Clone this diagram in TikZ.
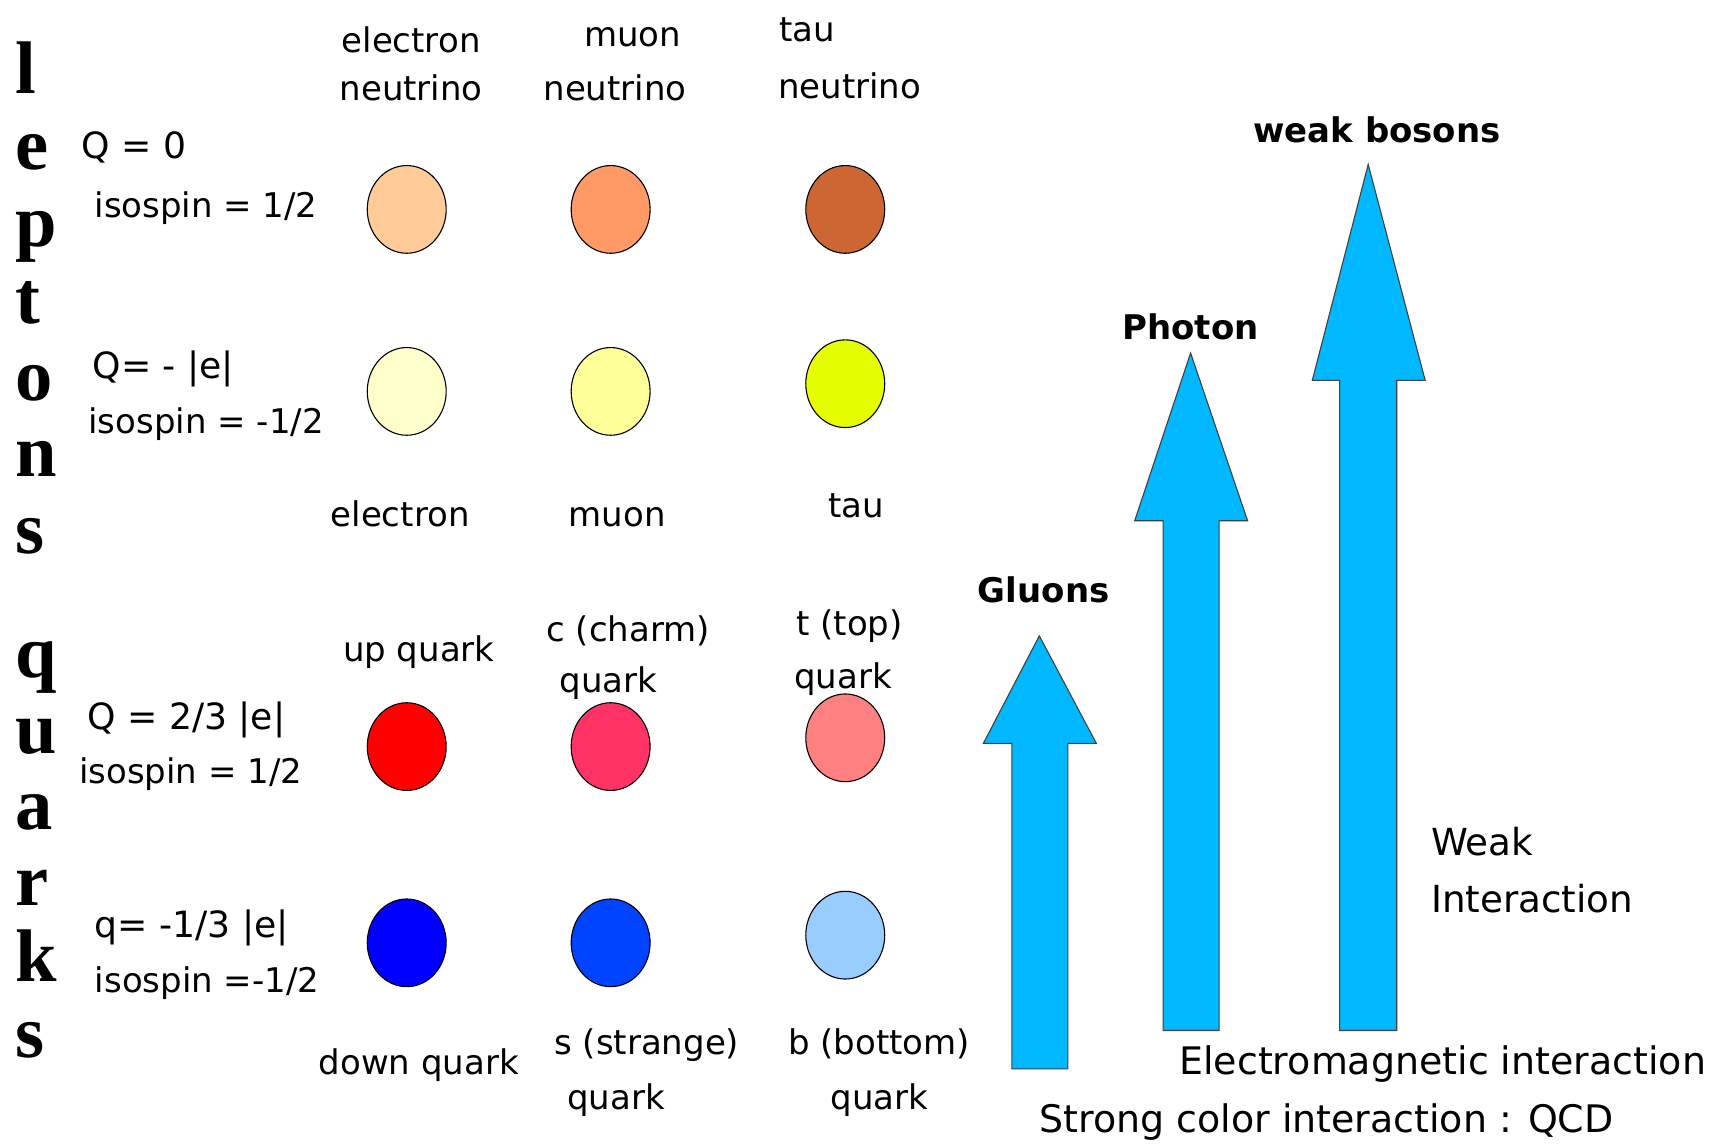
\documentclass[tikz,border=0pt]{standalone}
\usepackage{fontspec}
\setmainfont{DejaVu Sans}
\newfontfamily\timesfam{Liberation Serif}
\usetikzlibrary{shapes.geometric}
\definecolor{cA1}{HTML}{FFCC99}
\definecolor{cA2}{HTML}{FF9966}
\definecolor{cA3}{HTML}{CC6633}
\definecolor{cB1}{HTML}{FFFFCC}
\definecolor{cB2}{HTML}{FFFF99}
\definecolor{cB3}{HTML}{E6FF00}
\definecolor{cC1}{HTML}{FF0000}
\definecolor{cC2}{HTML}{FF3366}
\definecolor{cC3}{HTML}{FF8080}
\definecolor{cD1}{HTML}{0000FF}
\definecolor{cD2}{HTML}{0044FF}
\definecolor{cD3}{HTML}{99CCFF}
\definecolor{arrowblue}{HTML}{00B8FF}
\tikzset{
  lbl/.style={anchor=base, inner sep=0pt, font=\fontsize{15.5}{18}\selectfont},
  chg/.style={anchor=base, inner sep=0pt, font=\fontsize{16.5}{19}\selectfont},
  lblw/.style={anchor=base west, inner sep=0pt, font=\fontsize{17}{20}\selectfont},
  big/.style={anchor=base, inner sep=0pt, font=\fontsize{17.3}{20}\selectfont},
  hd/.style={anchor=base, inner sep=0pt, font=\fontsize{15.5}{18}\selectfont\bfseries},
  letter/.style={anchor=base west, inner sep=0pt, font=\timesfam\bfseries\fontsize{34}{40}\selectfont},
  ball/.style={ellipse, draw=black, line width=0.5pt, minimum width=36pt, minimum height=40pt, inner sep=0pt},
  bigarrow/.style={fill=arrowblue, draw=black!75, line width=0.5pt}
}
\begin{document}
\begin{tikzpicture}[x=0.5pt,y=-0.5pt]
\useasboundingbox (0,0) rectangle (1568,1046);
\fill[white] (0,0) rectangle (1568,1046);

% vertical words
\foreach \ch [count=\i from 0] in {l,e,p,t,o,n,s} {
  \node[letter] (lep\i) at (14,{85+70*\i}) {\ch};
}
\foreach \ch [count=\i from 0] in {q,u,a,r,k,s} {
  \node[letter] (qua\i) at (14,{618+69.4*\i}) {\ch};
}

% top labels
\node[lbl] (en1) at (375,48) {electron};
\node[lbl] (en2) at (375,92) {neutrino};
\node[lbl] (mn1) at (577,42) {muon};
\node[lbl] (mn2) at (561,92) {neutrino};
\node[lbl] (tn1) at (736,38) {tau};
\node[lbl] (tn2) at (775,90) {neutrino};

% charge / isospin
\node[chg] (q1) at (122,145) {Q = 0};
\node[lbl] (i1) at (188,198) {isospin = 1/2};
\node[chg] (q2) at (149,345) {Q= - |e|};
\node[lbl] (i2) at (188,395) {isospin = -1/2};
\node[chg] (q3) at (170,665) {Q = 2/3 |e|};
\node[lbl] (i3) at (174,715) {isospin = 1/2};
\node[chg] (q4) at (175,855) {q= -1/3 |e|};
\node[lbl] (i4) at (189,905) {isospin =-1/2};

% balls
\node[ball, fill=cA1] (b11) at (371,191) {};
\node[ball, fill=cA2] (b12) at (557,191) {};
\node[ball, fill=cA3] (b13) at (771,191) {};
\node[ball, fill=cB1] (b21) at (371,357) {};
\node[ball, fill=cB2] (b22) at (557,357) {};
\node[ball, fill=cB3] (b23) at (771,350) {};
\node[ball, fill=cC1] (b31) at (371,681) {};
\node[ball, fill=cC2] (b32) at (557,681) {};
\node[ball, fill=cC3] (b33) at (771,673) {};
\node[ball, fill=cD1] (b41) at (371,860) {};
\node[ball, fill=cD2] (b42) at (557,860) {};
\node[ball, fill=cD3] (b43) at (771,853) {};

% lepton names
\node[lbl] (el) at (365,480) {electron};
\node[lbl] (mu) at (563,480) {muon};
\node[lbl] (ta) at (781,472) {tau};

% quark names
\node[lbl] (up) at (382,603) {up quark};
\node[lbl] (ch1) at (573,585) {c (charm)};
\node[lbl] (ch2) at (555,632) {quark};
\node[lbl] (tp1) at (775,580) {t (top)};
\node[lbl] (tp2) at (769,628) {quark};
\node[lbl] (dn) at (382,980) {down quark};
\node[lbl] (st1) at (590,962) {s (strange)};
\node[lbl] (st2) at (562,1012) {quark};
\node[lbl] (bt1) at (802,962) {b (bottom)};
\node[lbl] (bt2) at (802,1012) {quark};

% arrows
\draw[bigarrow] (948,580) -- (1000,678) -- (974,678) -- (974,975) -- (923,975) -- (923,678) -- (897,678) -- cycle;
\draw[bigarrow] (1086,322) -- (1138,475) -- (1112,475) -- (1112,940) -- (1061,940) -- (1061,475) -- (1035,475) -- cycle;
\draw[bigarrow] (1248,150) -- (1300,347) -- (1274,347) -- (1274,940) -- (1222,940) -- (1222,347) -- (1197,347) -- cycle;

\node[hd] (glu) at (952,550) {Gluons};
\node[hd] (pho) at (1086,310) {Photon};
\node[hd] (wb) at (1256,130) {weak bosons};

\node[lblw] (wk1) at (1305,780) {Weak};
\node[lblw] (wk2) at (1305,832) {Interaction};
\node[big] (em) at (1316,980) {Electromagnetic interaction};
\node[big] (qcd) at (1210,1033) {Strong color interaction : QCD};
\end{tikzpicture}
\end{document}
